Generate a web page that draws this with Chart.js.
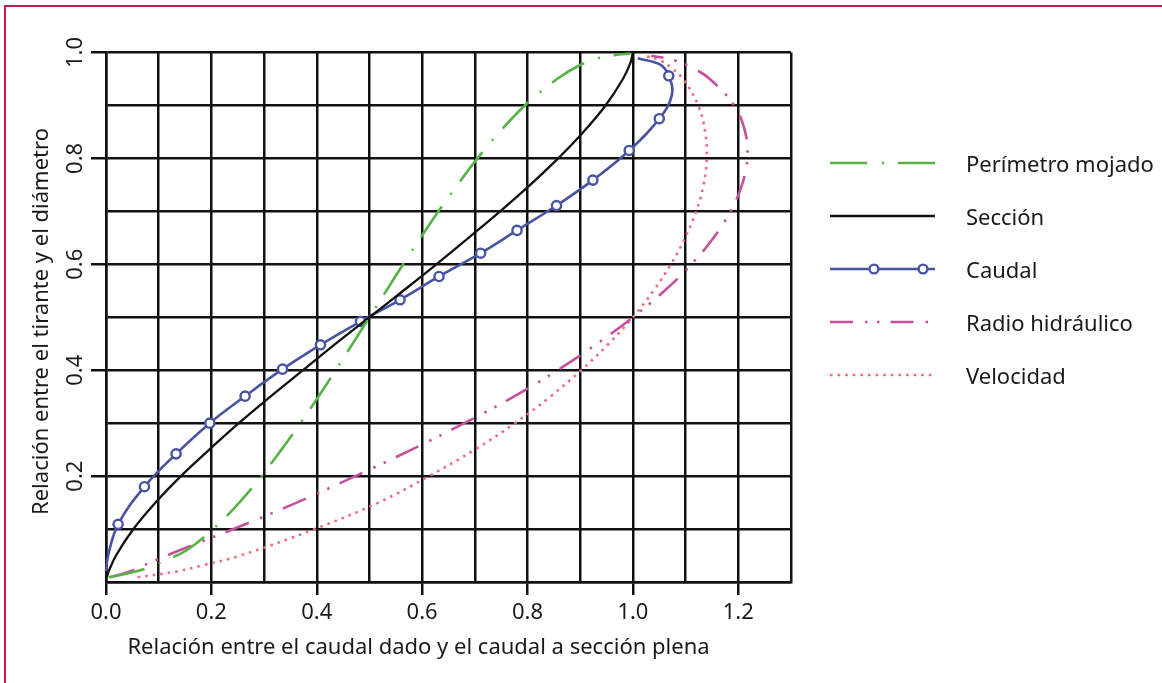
<!DOCTYPE html>
<html><head><meta charset="utf-8">
<script src="https://cdn.jsdelivr.net/npm/chart.js@4.4.0/dist/chart.umd.min.js"></script>
<style>
html,body{margin:0;padding:0;background:#fff;}
#wrap{position:relative;width:1162px;height:683px;overflow:hidden;font-family:"Noto Sans",sans-serif;}
#frame{position:absolute;left:4px;top:5px;width:1200px;height:720px;border:2px solid #c8174a;box-sizing:border-box;}
#c{position:absolute;left:0;top:0;}
.lg{position:absolute;left:830px;width:330px;height:30px;}
.lg svg{position:absolute;left:0;top:0;}
.lg span{position:absolute;left:136px;top:0;line-height:30px;white-space:nowrap;font-size:22px;color:#1a1a1a;}
</style></head>
<body>
<div id="wrap">
<div id="frame"></div>
<canvas id="c" width="1162" height="683"></canvas>
<div id="legend"></div>
</div>
<script>
// ---- data ----
const xTitle = 'Relación entre el caudal dado y el caudal a sección plena';
const yTitle = 'Relación entre el tirante y el diámetro';
const xTickLabels = ['0.0','0.2','0.4','0.6','0.8','1.0','1.2'];
const yTickLabels = ['0.2','0.4','0.6','0.8','1.0'];
const seriesNames = ['Perímetro mojado','Sección','Caudal','Radio hidráulico','Velocidad'];

const perimetroY = [0.009,0.016,0.026,0.042,0.06,0.1,0.15,0.2,0.25,0.3,0.35,0.4,0.45,0.5,0.55,0.6,0.65,0.7,0.75,0.8,0.85,0.9,0.95,0.975,0.988,0.995,0.998];
const perimetroX = [0.005,0.04,0.077,0.115,0.153,0.203,0.253,0.295,0.333,0.369,0.403,0.436,0.468,0.5,0.532,0.564,0.597,0.631,0.667,0.705,0.747,0.795,0.856,0.897,0.93,0.965,0.995];

const seccionY = [0.01,0.02,0.05,0.1,0.15,0.2,0.25,0.3,0.35,0.4,0.45,0.5,0.55,0.6,0.65,0.7,0.75,0.8,0.85,0.9,0.95,0.98,1.0];
const seccionX = [0.002,0.005,0.019,0.052,0.094,0.142,0.196,0.252,0.312,0.374,0.436,0.5,0.564,0.627,0.688,0.748,0.805,0.858,0.906,0.948,0.981,0.995,1.0];

const caudalY = [0.02,0.05,0.109,0.180,0.242,0.300,0.351,0.402,0.448,0.492,0.533,0.577,0.621,0.664,0.711,0.759,0.815,0.875,0.92,0.956,0.977,0.989];
const caudalX = [0.0,0.004,0.023,0.073,0.133,0.197,0.264,0.335,0.407,0.483,0.558,0.632,0.711,0.780,0.855,0.924,0.993,1.050,1.074,1.068,1.052,1.009];
const caudalMarked = [0,0,1,1,1,1,1,1,1,1,1,1,1,1,1,1,1,1,0,1,0,0];

const radioY = [0.009,0.02,0.042,0.07,0.1,0.15,0.2,0.25,0.3,0.35,0.4,0.45,0.5,0.55,0.6,0.65,0.7,0.75,0.8,0.85,0.9,0.95,0.97,0.985,0.994];
const radioX = [0.008,0.045,0.096,0.165,0.242,0.362,0.473,0.58,0.68,0.774,0.857,0.932,1.0,1.06,1.111,1.153,1.185,1.207,1.217,1.213,1.192,1.146,1.115,1.08,1.035];

const velocidadY = [0.009,0.02,0.032,0.05,0.1,0.15,0.2,0.25,0.3,0.35,0.4,0.45,0.5,0.55,0.6,0.65,0.7,0.75,0.8,0.85,0.9,0.95,0.97,0.985,0.994];
const velocidadX = [0.06,0.135,0.185,0.255,0.396,0.517,0.613,0.70,0.776,0.843,0.902,0.954,1.0,1.039,1.072,1.099,1.12,1.134,1.14,1.137,1.124,1.095,1.074,1.052,1.022];

// ---- styles ----
const C_GREEN = '#57b346', C_BLACK = '#111111', C_BLUE = '#4853a3', C_MAG = '#c7509c', C_PINK = '#f26b7a';
const FONT = '"Noto Sans", "Open Sans", sans-serif';

const pts = (xs, ys) => xs.map((x, i) => ({x: x, y: ys[i]}));

const datasets = [
  {label: seriesNames[0], data: pts(perimetroX, perimetroY), borderColor: C_GREEN, borderWidth: 2.6, borderDash: [37,15,2,14]},
  {label: seriesNames[1], data: pts(seccionX, seccionY), borderColor: C_BLACK, borderWidth: 2.3},
  {label: seriesNames[2], data: pts(caudalX, caudalY), borderColor: C_BLUE, borderWidth: 2.6,
    pointRadius: caudalMarked.map(m => m ? 4.6 : 0), pointBorderWidth: 2.4, pointBackgroundColor: '#ffffff', pointBorderColor: C_BLUE},
  {label: seriesNames[3], data: pts(radioX, radioY), borderColor: C_MAG, borderWidth: 2.6, borderDash: [25,12,2.5,9,2.5,11]},
  {label: seriesNames[4], data: pts(velocidadX, velocidadY), borderColor: C_PINK, borderWidth: 2.6, borderDash: [2.6,5]}
].map(d => Object.assign({showLine: true, tension: 0.4, fill: false, clip: 6, pointRadius: 0, pointHoverRadius: 0}, d));

const isLabeled = (v, list) => list.some(t => Math.abs(parseFloat(t) - v) < 1e-6);

const axisText = {
  id: 'axisText',
  afterDraw(chart) {
    const ctx = chart.ctx, ys = chart.scales.y;
    ctx.save();
    ctx.fillStyle = '#1a1a1a';
    ctx.font = '22px ' + FONT;
    ctx.textAlign = 'center';
    ctx.textBaseline = 'middle';
    yTickLabels.forEach(t => {
      const py = ys.getPixelForValue(parseFloat(t));
      ctx.save(); ctx.translate(76, py); ctx.rotate(-Math.PI / 2); ctx.fillText(t, 0, 0); ctx.restore();
    });
    ctx.font = '22px ' + FONT;
    ctx.textBaseline = 'alphabetic';
    ctx.save(); ctx.translate(48, 321.5); ctx.rotate(-Math.PI / 2); ctx.fillText(yTitle, 0, 0); ctx.restore();
    ctx.fillText(xTitle, 418.5, 654);
    ctx.restore();
  }
};

new Chart(document.getElementById('c'), {
  type: 'scatter',
  data: {datasets},
  plugins: [axisText],
  options: {
    responsive: false,
    devicePixelRatio: 1,
    animation: false,
    events: [],
    layout: {padding: {left: 0, top: 52.5, right: 371, bottom: 0}},
    plugins: {legend: {display: false}, tooltip: {enabled: false}},
    scales: {
      x: {
        type: 'linear', min: 0, max: 1.3,
        afterFit: s => { s.height = 101; },
        ticks: {stepSize: 0.1, autoSkip: false, maxRotation: 0, padding: 5, color: '#1a1a1a',
          font: {family: FONT, size: 22},
          callback: v => { const t = xTickLabels.find(l => Math.abs(parseFloat(l) - v) < 1e-6); return t || ''; }},
        grid: {color: C_BLACK, lineWidth: 2.5, tickLength: 13,
          tickColor: c => isLabeled(c.tick.value, xTickLabels) ? C_BLACK : 'rgba(0,0,0,0)'},
        border: {color: C_BLACK, width: 2.5}
      },
      y: {
        type: 'linear', min: 0, max: 1.0,
        afterFit: s => { s.width = 106; },
        ticks: {stepSize: 0.1, display: false},
        grid: {color: C_BLACK, lineWidth: 2.5, tickLength: 15,
          tickColor: c => isLabeled(c.tick.value, yTickLabels) ? C_BLACK : 'rgba(0,0,0,0)'},
        border: {color: C_BLACK, width: 2.5}
      }
    }
  }
});

// ---- legend ----
const legendStyles = [
  {color: C_GREEN, dash: '37 15 2 14', w: 2.6},
  {color: C_BLACK, dash: '', w: 2.4},
  {color: C_BLUE, dash: '', w: 2.6, markers: [44, 93]},
  {color: C_MAG, dash: '23 12 2.5 9.5 2.5 11', w: 2.6},
  {color: C_PINK, dash: '2.6 5', w: 2.6}
];
const lg = document.getElementById('legend');
seriesNames.forEach((name, i) => {
  const s = legendStyles[i];
  const row = document.createElement('div');
  row.className = 'lg';
  row.style.top = (148 + 53 * i) + 'px';
  let svg = '<svg width="110" height="30"><line x1="0" y1="15" x2="105" y2="15" stroke="' + s.color +
    '" stroke-width="' + s.w + '"' + (s.dash ? ' stroke-dasharray="' + s.dash + '"' : '') + '/>';
  (s.markers || []).forEach(mx => {
    svg += '<circle cx="' + mx + '" cy="15" r="4.4" fill="#fff" stroke="' + s.color + '" stroke-width="2.4"/>';
  });
  svg += '</svg>';
  row.innerHTML = svg + '<span>' + name + '</span>';
  lg.appendChild(row);
});
</script>
</body></html>
